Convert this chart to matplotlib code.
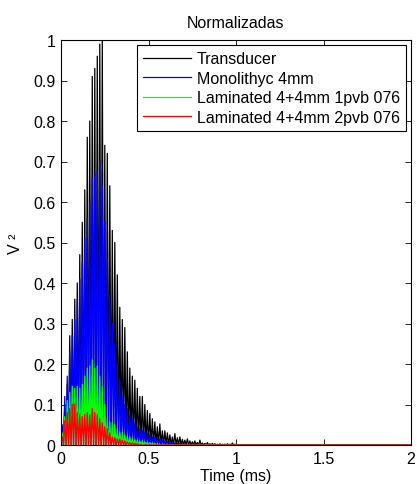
#!/usr/bin/env python
import matplotlib
matplotlib.use('Agg')
import matplotlib.pyplot as plt
import numpy as np

plt.rcParams['font.family'] = ['Liberation Sans', 'DejaVu Sans']
plt.rcParams['font.size'] = 11.5

#data: one peak of the squared signal per half period, troughs fall to zero
period = 0.0143   # ms between peaks
t_end = 2.0

transducer = [0.04, 0.10, 0.15, 0.27, 0.31, 0.36, 0.40, 0.47, 0.55, 0.63,
              0.76, 0.80, 0.91, 0.93, 0.96, 0.99, 1.00, 0.74, 0.72, 0.64,
              0.53, 0.50, 0.42, 0.34, 0.31, 0.29, 0.23, 0.19, 0.17, 0.16,
              0.14, 0.12, 0.12, 0.10, 0.085, 0.078, 0.065, 0.057, 0.045, 0.052,
              0.035, 0.035, 0.030, 0.025, 0.020, 0.028, 0.018, 0.020, 0.014, 0.012,
              0.015, 0.010, 0.008, 0.010, 0.006, 0.012, 0.005, 0.004, 0.006, 0.003,
              0.004, 0.003, 0.002, 0.003, 0.002, 0.002, 0.003, 0.002, 0.005, 0.002]

monolithic = [0.05, 0.12, 0.17, 0.23, 0.27, 0.31, 0.36, 0.41, 0.45, 0.51,
              0.56, 0.60, 0.66, 0.67, 0.68, 0.70, 0.64, 0.55, 0.46, 0.37,
              0.30, 0.25, 0.20, 0.16, 0.12, 0.10, 0.09, 0.075, 0.065, 0.055,
              0.045, 0.040, 0.037, 0.033, 0.028, 0.025, 0.020, 0.018, 0.017, 0.015,
              0.012, 0.010, 0.009, 0.008, 0.006, 0.005, 0.004, 0.004, 0.003, 0.003,
              0.002]

laminated_1pvb = [0.03, 0.07, 0.11, 0.13, 0.145, 0.14, 0.145, 0.14, 0.15, 0.17,
                  0.19, 0.195, 0.21, 0.19, 0.195, 0.17, 0.145, 0.10, 0.065, 0.057,
                  0.055, 0.050, 0.040, 0.032, 0.030, 0.025, 0.022, 0.020, 0.015, 0.013,
                  0.012, 0.010, 0.010, 0.008, 0.007, 0.006, 0.005, 0.004, 0.003]

laminated_2pvb = [0.02, 0.06, 0.08, 0.09, 0.10, 0.10, 0.08, 0.075, 0.07, 0.075,
                  0.08, 0.075, 0.09, 0.08, 0.075, 0.065, 0.055, 0.045, 0.040, 0.030,
                  0.020, 0.018, 0.015, 0.015, 0.012, 0.010, 0.008, 0.006, 0.005, 0.004,
                  0.003]

labels = ['Transducer', 'Monolithyc 4mm',
          'Laminated 4+4mm 1pvb 076', 'Laminated 4+4mm 2pvb 076']
colors = ['k', (0, 0, 1), (0, 1, 0), (1, 0, 0)]


def trace(peaks):
    t, v = [], []
    for k, p in enumerate(peaks):
        t += [k * period, k * period + period / 2]
        v += [0.0, p]
    t += [len(peaks) * period, t_end]
    v += [0.0, 0.0]
    return np.array(t), np.array(v)


fig = plt.figure(figsize=(4.17, 4.85), dpi=100)
ax = fig.add_axes([61 / 417, 39 / 485, 350 / 417, 405 / 485])

for series, c, lab in zip([transducer, monolithic, laminated_1pvb, laminated_2pvb],
                          colors, labels):
    t, v = trace(series)
    ax.plot(t, v, color=c, linewidth=0.9, label=lab)

#axes
ax.set_xlim(0, 2)
ax.set_ylim(0, 1)
ax.set_xticks([0, 0.5, 1, 1.5, 2])
ax.set_xticklabels(['0', '0.5', '1', '1.5', '2'])
ax.set_yticks(np.arange(0, 1.01, 0.1))
ax.set_yticklabels(['0', '0.1', '0.2', '0.3', '0.4', '0.5', '0.6', '0.7', '0.8', '0.9', '1'])
ax.tick_params(direction='in', top=True, right=True, length=4, width=0.6, pad=4)
for s in ax.spines.values():
    s.set_linewidth(0.8)

ax.set_xlabel('Time (ms)', labelpad=1.5)
ax.set_ylabel('V ²', labelpad=7)
ax.set_title('Normalizadas', fontsize=11.5, pad=9)

leg = ax.legend(loc='upper right', fancybox=False, framealpha=1, edgecolor='k',
                handlelength=3.0, borderaxespad=0.3, labelspacing=0.28,
                borderpad=0.4, handletextpad=0.35)
leg.get_frame().set_linewidth(0.8)

plt.savefig('out.png', dpi=100)
